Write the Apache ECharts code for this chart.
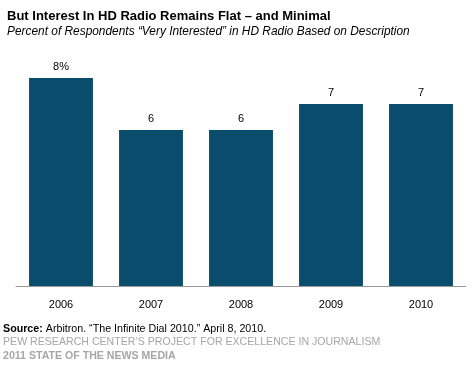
<!DOCTYPE html>
<html><head><meta charset="utf-8">
<script src="https://cdn.jsdelivr.net/npm/echarts@6/dist/echarts.min.js"></script>
<style>html,body{margin:0;padding:0;background:#fff}#c{width:474px;height:373px}</style>
</head><body><div id="c"></div>
<script>
var categories = ['2006', '2007', '2008', '2009', '2010'];
var values = [8, 6, 6, 7, 7];
var valueLabels = ['8%', '6', '6', '7', '7'];

var chart = echarts.init(document.getElementById('c'), null, {renderer: 'canvas'});
var F = '"Liberation Sans", Arial, sans-serif';
chart.setOption({
  animation: false,
  backgroundColor: '#fff',
  title: [
    {text: 'But Interest In HD Radio Remains Flat \u2013 and Minimal', left: 2, top: 5,
     textStyle: {fontFamily: F, fontSize: 13, fontWeight: 'bold', color: '#000'}},
    {text: 'Percent of Respondents \u201cVery Interested\u201d in HD Radio Based on Description', left: 2, top: 21,
     textStyle: {fontFamily: F, fontSize: 11.9, fontStyle: 'italic', fontWeight: 'normal', color: '#000'}}
  ],
  grid: {left: 16, right: 8, top: 78, bottom: 87},
  xAxis: {
    type: 'category', data: categories,
    axisLine: {lineStyle: {color: '#999', width: 1}},
    axisTick: {show: false},
    axisLabel: {fontFamily: F, fontSize: 11, color: '#000', margin: 13}
  },
  yAxis: {type: 'value', min: 0, max: 8, show: false, splitLine: {show: false}},
  series: [{
    type: 'bar',
    data: values,
    barCategoryGap: '29%',
    itemStyle: {color: '#0a4c6c'},
    label: {
      show: true, position: 'top', distance: 6,
      fontFamily: F, fontSize: 11, color: '#000',
      formatter: function (p) { return valueLabels[p.dataIndex]; }
    }
  }],
  graphic: [
    {type: 'text', left: 3, top: 324, style: {
      text: '{b|Source:} Arbitron. \u201cThe Infinite Dial 2010.\u201d April 8, 2010.',
      rich: {b: {fontFamily: F, fontSize: 10.7, fontWeight: 'bold', fill: '#000'}},
      font: '10.7px ' + F, fill: '#000'}},
    {type: 'text', left: 3, top: 337, style: {
      text: 'PEW RESEARCH CENTER\u2019S PROJECT FOR EXCELLENCE IN JOURNALISM',
      font: '10.6px ' + F, fill: '#a6a6a6'}},
    {type: 'text', left: 3, top: 351, style: {
      text: '2011 STATE OF THE NEWS MEDIA',
      font: 'bold 10.6px ' + F, fill: '#a6a6a6'}}
  ]
});
</script></body></html>
